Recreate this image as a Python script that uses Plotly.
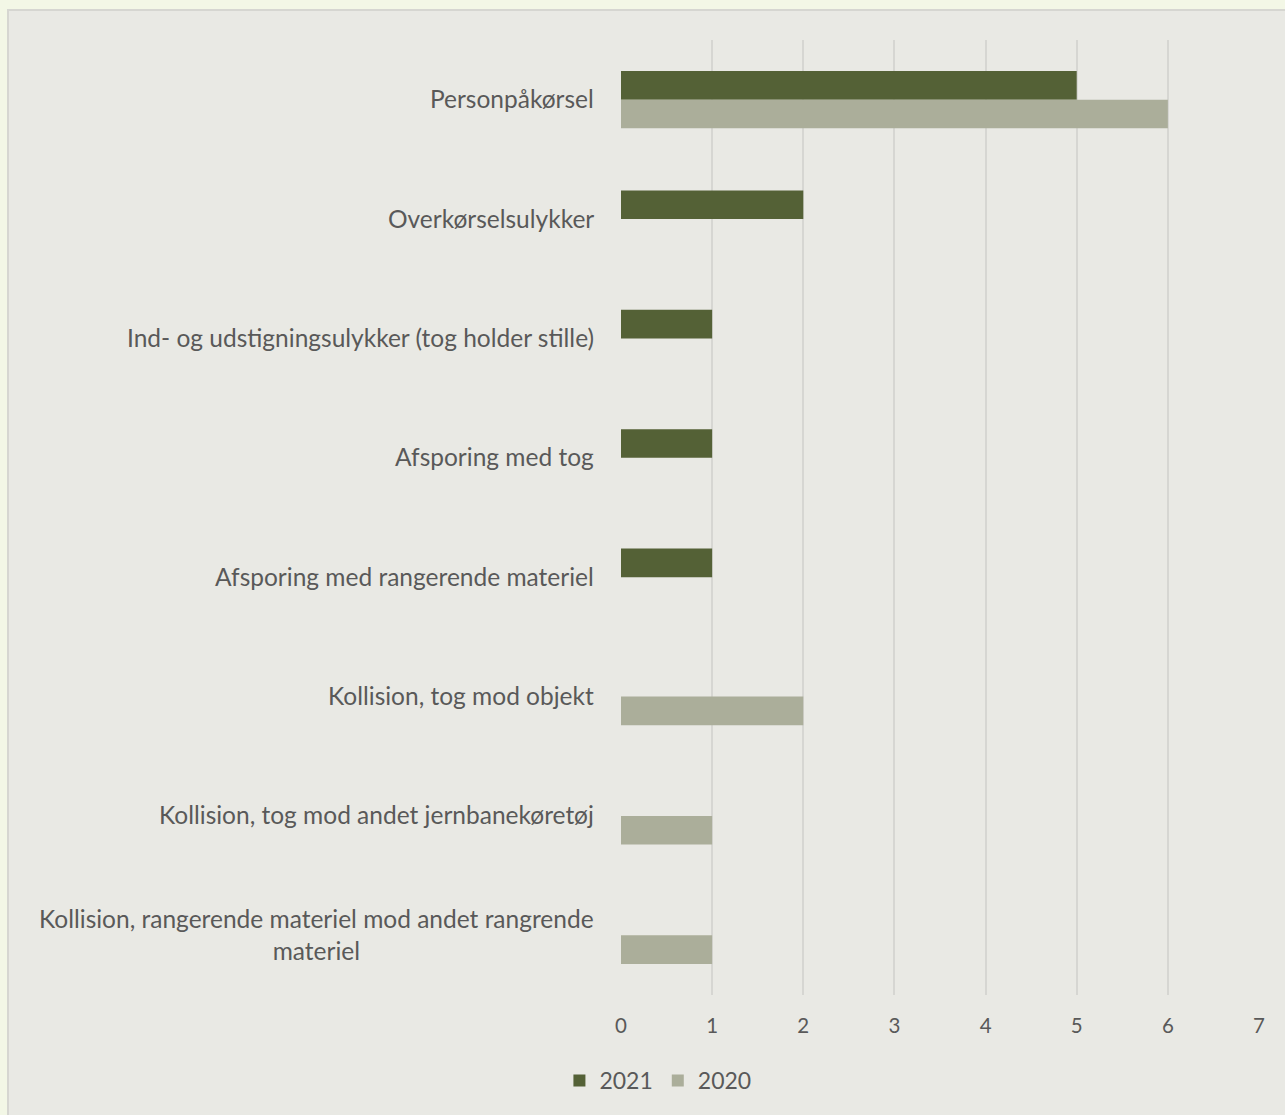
import plotly.graph_objects as go

categories = [
    "Personpåkørsel",
    "Overkørselsulykker",
    "Ind- og udstigningsulykker (tog holder stille)",
    "Afsporing med tog",
    "Afsporing med rangerende materiel",
    "Kollision, tog mod objekt",
    "Kollision, tog mod andet jernbanekøretøj",
    "Kollision, rangerende materiel mod andet rangrende<br>materiel",
]
series_2021 = [5, 2, 1, 1, 1, 0, 0, 0]
series_2020 = [6, 0, 0, 0, 0, 2, 1, 1]
x_ticks = [0, 1, 2, 3, 4, 5, 6, 7]

W, H = 1285, 1115
L, R, T, B = 621, 26, 40, 120
pw, ph = W - L - R, H - T - B

text_col = "#595959"
font_family = "Lato, Open Sans, sans-serif"

fig = go.Figure()
fig.add_trace(go.Bar(y=categories, x=series_2021, orientation="h", name="2021",
                     marker=dict(color="#546136", line=dict(width=0))))
fig.add_trace(go.Bar(y=categories, x=series_2020, orientation="h", name="2020",
                     marker=dict(color="#ABAE9A", line=dict(width=0))))

# category labels as annotations (centered multi-line, right-aligned block)
for c in categories:
    fig.add_annotation(x=0, xref="paper", y=c, yref="y", text=c, showarrow=False,
                       xanchor="right", yanchor="middle", xshift=-25, yshift=1,
                       align="center", font=dict(size=24.5, color=text_col, family=font_family))

def px_x(p):
    return (p - L) / pw
def px_y(p):
    return (H - B - p) / ph

# chart area box
fig.add_shape(type="rect", xref="paper", yref="paper", layer="below",
              x0=px_x(8), x1=px_x(1300), y0=px_y(1130), y1=px_y(10),
              fillcolor="#E9E9E4", line=dict(color="#D6D6D1", width=2))

fig.update_layout(
    width=W, height=H,
    margin=dict(l=L, r=R, t=T, b=B, autoexpand=False),
    paper_bgcolor="#F3F7E6",
    plot_bgcolor="rgba(0,0,0,0)",
    barmode="group",
    bargap=0.52,
    bargroupgap=0,
    font=dict(family=font_family, color=text_col, size=20),
    xaxis=dict(range=[0, 7], tickvals=x_ticks, showgrid=True, gridcolor="#D6D6D2",
               gridwidth=1.5, zeroline=False, showline=False, ticks="",
               ticklabelstandoff=16, tickfont=dict(size=20.5, color=text_col)),
    yaxis=dict(autorange="reversed", showticklabels=False, showgrid=False,
               zeroline=False, showline=False, ticks=""),
    legend=dict(orientation="h", xref="container", yref="container",
                x=0.512, y=0.031, xanchor="center", yanchor="middle",
                font=dict(size=23, color=text_col), itemwidth=30,
                bgcolor="rgba(0,0,0,0)", traceorder="normal"),
    showlegend=True,
)

fig.write_html("out.html", config={"displayModeBar": False},
               post_script="document.body.style.margin='0';document.body.style.background='#F3F7E6';")
